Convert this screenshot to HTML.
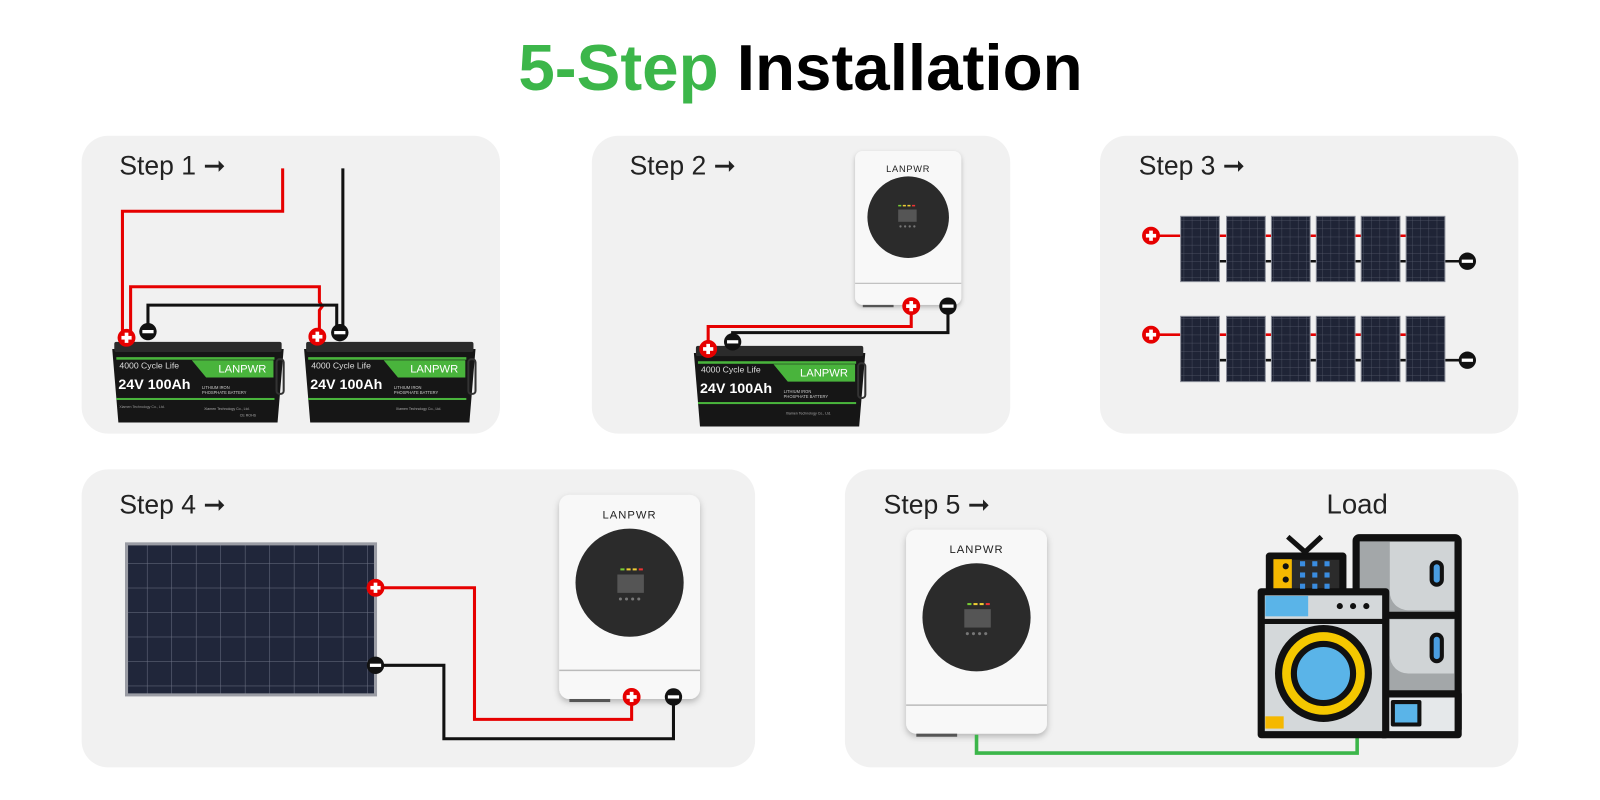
<!DOCTYPE html>
<html><head><meta charset="utf-8"><style>
html,body{margin:0;padding:0;background:#fff;width:1600px;height:800px;overflow:hidden}
svg{display:block}
text{font-family:"Liberation Sans",Arial,sans-serif}
</style></head><body>
<svg width="1600" height="800" viewBox="0 0 1568 784" xmlns="http://www.w3.org/2000/svg">
<defs>
<g id="plus"><circle r="7.5" fill="#fff" stroke="#e60000" stroke-width="2.5"/><rect x="-5" y="-1.8" width="10" height="3.6" fill="#e60000"/><rect x="-1.8" y="-5" width="3.6" height="10" fill="#e60000"/><circle r="8.5" fill="#e60000"/><rect x="-5" y="-1.8" width="10" height="3.6" fill="#fff"/><rect x="-1.8" y="-5" width="3.6" height="10" fill="#fff"/></g>
<g id="minus"><circle r="8.5" fill="#111"/><rect x="-5.5" y="-1.6" width="11" height="3.2" fill="#fff"/></g>
<pattern id="cell" width="24" height="24" patternUnits="userSpaceOnUse"><rect width="24" height="24" fill="#20263a"/><path d="M0 0H24M0 0V24" stroke="#6d7284" stroke-width="1"/></pattern>
<pattern id="cell2" width="8" height="8" patternUnits="userSpaceOnUse"><rect width="8" height="8" fill="#1f2436"/><path d="M0 0H8M0 0V8" stroke="#565b6c" stroke-width="0.7"/></pattern>
<filter id="sh" x="-20%" y="-20%" width="140%" height="140%"><feDropShadow dx="0" dy="3" stdDeviation="3" flood-opacity="0.25"/></filter>
</defs>

<!-- title -->
<text x="508" y="88" font-size="64" font-weight="bold" textLength="553" lengthAdjust="spacingAndGlyphs"><tspan fill="#3cb64a">5-Step</tspan><tspan fill="#000"> Installation</tspan></text>

<!-- panels -->
<rect x="80" y="133" width="410" height="292" rx="26" fill="#f1f1f1"/>
<rect x="580" y="133" width="410" height="292" rx="26" fill="#f1f1f1"/>
<rect x="1078" y="133" width="410" height="292" rx="26" fill="#f1f1f1"/>
<rect x="80" y="460" width="660" height="292" rx="26" fill="#f1f1f1"/>
<rect x="828" y="460" width="660" height="292" rx="26" fill="#f1f1f1"/>

<g font-size="26" fill="#222">
<text x="117" y="171">Step 1 ➞</text>
<text x="617" y="171">Step 2 ➞</text>
<text x="1116" y="171">Step 3 ➞</text>
<text x="117" y="503">Step 4 ➞</text>
<text x="866" y="503">Step 5 ➞</text>
<text x="1300" y="503" font-size="27">Load</text>
</g>

<!-- Batteries -->
<g id="bat1" transform="translate(110,332)">
<path d="M0 10H168L162 82H6Z" fill="#161616"/>
<rect x="2" y="3" width="164" height="10" rx="2" fill="#2b2b2b"/>
<rect x="161" y="20" width="7" height="34" rx="3" fill="none" stroke="#333" stroke-width="2"/>
<rect x="4" y="18" width="155" height="2.5" fill="#49b43c"/>
<path d="M78 21H158V38H92Z" fill="#49b43c"/>
<text x="7" y="29" font-size="8.5" fill="#ddd">4000 Cycle Life</text>
<text x="6" y="49" font-size="14" font-weight="bold" fill="#fff">24V 100Ah</text>
<text x="104" y="33" font-size="11" fill="#fff">LANPWR</text>
<text x="88" y="49" font-size="4" fill="#ccc">LITHIUM IRON</text>
<text x="88" y="54" font-size="4" fill="#ccc">PHOSPHATE BATTERY</text>
<rect x="4" y="58" width="155" height="2" fill="#49b43c"/>
<text x="7" y="68" font-size="3.5" fill="#999">Xiamen Technology Co., Ltd.</text>
<text x="90" y="70" font-size="3.5" fill="#aaa">Xiamen Technology Co., Ltd.</text>
<text x="125" y="76" font-size="3.5" fill="#aaa">CE ROHS</text>
</g>
<g transform="translate(298,332)">
<path d="M0 10H168L162 82H6Z" fill="#161616"/>
<rect x="2" y="3" width="164" height="10" rx="2" fill="#2b2b2b"/>
<rect x="161" y="20" width="7" height="34" rx="3" fill="none" stroke="#333" stroke-width="2"/>
<rect x="4" y="18" width="155" height="2.5" fill="#49b43c"/>
<path d="M78 21H158V38H92Z" fill="#49b43c"/>
<text x="7" y="29" font-size="8.5" fill="#ddd">4000 Cycle Life</text>
<text x="6" y="49" font-size="14" font-weight="bold" fill="#fff">24V 100Ah</text>
<text x="104" y="33" font-size="11" fill="#fff">LANPWR</text>
<text x="88" y="49" font-size="4" fill="#ccc">LITHIUM IRON</text>
<text x="88" y="54" font-size="4" fill="#ccc">PHOSPHATE BATTERY</text>
<rect x="4" y="58" width="155" height="2" fill="#49b43c"/>
<text x="90" y="70" font-size="3.5" fill="#aaa">Xiamen Technology Co., Ltd.</text>
</g>
<g transform="translate(680,336)">
<path d="M0 10H168L162 82H6Z" fill="#161616"/>
<rect x="2" y="3" width="164" height="10" rx="2" fill="#2b2b2b"/>
<rect x="161" y="20" width="7" height="34" rx="3" fill="none" stroke="#333" stroke-width="2"/>
<rect x="4" y="18" width="155" height="2.5" fill="#49b43c"/>
<path d="M78 21H158V38H92Z" fill="#49b43c"/>
<text x="7" y="29" font-size="8.5" fill="#ddd">4000 Cycle Life</text>
<text x="6" y="49" font-size="14" font-weight="bold" fill="#fff">24V 100Ah</text>
<text x="104" y="33" font-size="11" fill="#fff">LANPWR</text>
<text x="88" y="49" font-size="4" fill="#ccc">LITHIUM IRON</text>
<text x="88" y="54" font-size="4" fill="#ccc">PHOSPHATE BATTERY</text>
<rect x="4" y="58" width="155" height="2" fill="#49b43c"/>
<text x="90" y="70" font-size="3.5" fill="#aaa">Xiamen Technology Co., Ltd.</text>
</g>

<!-- Step1 wires -->
<g fill="none" stroke-width="3">
<path d="M277 165V207H120V331" stroke="#e60000"/>
<path d="M128 331V281H313V296L316 300L313 304V330" stroke="#e60000"/>
<path d="M145 325V299H330V326" stroke="#111"/>
<path d="M336 165V326" stroke="#111"/>
</g>
<use href="#plus" x="124" y="331"/><use href="#minus" x="145" y="325"/>
<use href="#plus" x="311" y="330"/><use href="#minus" x="333" y="326"/>

<!-- Inverters -->
<g transform="translate(838,148) scale(0.754)">
<rect x="0" y="0" width="138" height="200" rx="10" fill="#f8f8f8" filter="url(#sh)"/>
<line x1="0" y1="172" x2="138" y2="172" stroke="#bbb" stroke-width="1.5"/>
<text x="69" y="27" font-size="12" text-anchor="middle" fill="#222" letter-spacing="1">LANPWR</text>
<circle cx="69" cy="86" r="53" fill="#2b2b2b"/>
<rect x="56" y="70" width="4" height="2" fill="#7c3"/><rect x="62" y="70" width="4" height="2" fill="#ec3"/><rect x="68" y="70" width="4" height="2" fill="#ec3"/><rect x="74" y="70" width="4" height="2" fill="#e33"/>
<rect x="56" y="76" width="24" height="16" fill="#555"/>
<circle cx="59" cy="98" r="1.5" fill="#777"/><circle cx="65" cy="98" r="1.5" fill="#777"/><circle cx="71" cy="98" r="1.5" fill="#777"/><circle cx="77" cy="98" r="1.5" fill="#777"/>
<rect x="10" y="200" width="40" height="3" fill="#555"/>
</g>
<g transform="translate(548,485)">
<rect x="0" y="0" width="138" height="200" rx="10" fill="#f8f8f8" filter="url(#sh)"/>
<line x1="0" y1="172" x2="138" y2="172" stroke="#bbb" stroke-width="1.5"/>
<text x="69" y="23" font-size="11" text-anchor="middle" fill="#222" letter-spacing="1">LANPWR</text>
<circle cx="69" cy="86" r="53" fill="#2b2b2b"/>
<rect x="60" y="72" width="4" height="2" fill="#7c3"/><rect x="66" y="72" width="4" height="2" fill="#ec3"/><rect x="72" y="72" width="4" height="2" fill="#ec3"/><rect x="78" y="72" width="4" height="2" fill="#e33"/>
<rect x="57" y="78" width="26" height="18" fill="#555"/>
<circle cx="60" cy="102" r="1.5" fill="#777"/><circle cx="66" cy="102" r="1.5" fill="#777"/><circle cx="72" cy="102" r="1.5" fill="#777"/><circle cx="78" cy="102" r="1.5" fill="#777"/>
<rect x="10" y="200" width="40" height="3" fill="#555"/>
</g>
<g transform="translate(888,519)">
<rect x="0" y="0" width="138" height="200" rx="10" fill="#f8f8f8" filter="url(#sh)"/>
<line x1="0" y1="172" x2="138" y2="172" stroke="#bbb" stroke-width="1.5"/>
<text x="69" y="23" font-size="11" text-anchor="middle" fill="#222" letter-spacing="1">LANPWR</text>
<circle cx="69" cy="86" r="53" fill="#2b2b2b"/>
<rect x="60" y="72" width="4" height="2" fill="#7c3"/><rect x="66" y="72" width="4" height="2" fill="#ec3"/><rect x="72" y="72" width="4" height="2" fill="#ec3"/><rect x="78" y="72" width="4" height="2" fill="#e33"/>
<rect x="57" y="78" width="26" height="18" fill="#555"/>
<circle cx="60" cy="102" r="1.5" fill="#777"/><circle cx="66" cy="102" r="1.5" fill="#777"/><circle cx="72" cy="102" r="1.5" fill="#777"/><circle cx="78" cy="102" r="1.5" fill="#777"/>
<rect x="10" y="200" width="40" height="3" fill="#555"/>
</g>

<!-- Step2 wires -->
<g fill="none" stroke-width="3">
<path d="M694 342V320H893V300" stroke="#e60000"/>
<path d="M718 335V326H929V300" stroke="#111"/>
</g>
<use href="#plus" x="694" y="342"/><use href="#minus" x="718" y="335"/>
<use href="#plus" x="893" y="300"/><use href="#minus" x="929" y="300"/>

<!-- Step3 solar -->
<g stroke-width="2.5">
<line x1="1128" y1="231" x2="1400" y2="231" stroke="#e60000"/>
<line x1="1170" y1="256" x2="1438" y2="256" stroke="#111"/>
<line x1="1128" y1="328" x2="1400" y2="328" stroke="#e60000"/>
<line x1="1170" y1="353" x2="1438" y2="353" stroke="#111"/>
</g>
<g stroke="#8b8f9a" stroke-width="1">
<rect x="1157" y="212" width="38" height="64" fill="url(#cell2)"/>
<rect x="1202" y="212" width="38" height="64" fill="url(#cell2)"/>
<rect x="1246" y="212" width="38" height="64" fill="url(#cell2)"/>
<rect x="1290" y="212" width="38" height="64" fill="url(#cell2)"/>
<rect x="1334" y="212" width="38" height="64" fill="url(#cell2)"/>
<rect x="1378" y="212" width="38" height="64" fill="url(#cell2)"/>
<rect x="1157" y="310" width="38" height="64" fill="url(#cell2)"/>
<rect x="1202" y="310" width="38" height="64" fill="url(#cell2)"/>
<rect x="1246" y="310" width="38" height="64" fill="url(#cell2)"/>
<rect x="1290" y="310" width="38" height="64" fill="url(#cell2)"/>
<rect x="1334" y="310" width="38" height="64" fill="url(#cell2)"/>
<rect x="1378" y="310" width="38" height="64" fill="url(#cell2)"/>
</g>
<use href="#plus" x="1128" y="231"/><use href="#minus" x="1438" y="256"/>
<use href="#plus" x="1128" y="328"/><use href="#minus" x="1438" y="353"/>

<!-- Step4 -->
<rect x="124" y="533" width="244" height="148" fill="url(#cell)" stroke="#9a9ca4" stroke-width="3"/>
<g fill="none" stroke-width="3">
<path d="M368 576H465V705H619V683" stroke="#e60000"/>
<path d="M368 652H435V724H660V683" stroke="#111"/>
</g>
<use href="#plus" x="368" y="576"/><use href="#minus" x="368" y="652"/>
<use href="#plus" x="619" y="683"/><use href="#minus" x="660" y="683"/>

<!-- Step5 green -->
<path d="M957 720V738H1330V720" fill="none" stroke="#3cb64a" stroke-width="3.5"/>

<!-- Load icon -->
<g stroke="#111" stroke-width="7" stroke-linejoin="round">
<rect x="1329" y="527" width="100" height="190" rx="3" fill="#a3a7a9"/>
<line x1="1329" y1="603" x2="1429" y2="603"/>
<path d="M1362 531H1425V598H1380A18 18 0 0 1 1362 580Z" fill="#d0d4d6" stroke="none"/>
<path d="M1362 607H1425V660H1380A18 18 0 0 1 1362 642Z" fill="#d0d4d6" stroke="none"/>
<rect x="1403" y="551" width="10" height="22" rx="5" fill="#4a9de0" stroke-width="4"/>
<rect x="1403" y="622" width="10" height="26" rx="5" fill="#4a9de0" stroke-width="4"/>
<rect x="1244" y="545" width="72" height="40" fill="#2b2b2b"/>
<rect x="1248" y="548" width="18" height="34" fill="#f5b800" stroke="none"/>
<path d="M1262 526L1279 541L1295 526" fill="none" stroke-width="5"/>
<rect x="1355" y="680" width="74" height="40" fill="#e5e8ea"/>
<rect x="1236" y="580" width="122" height="140" fill="#d4d8da"/>
<rect x="1240" y="584" width="42" height="20" fill="#5ab4e8" stroke="none"/>
<line x1="1236" y1="609" x2="1358" y2="609" stroke-width="5"/>
<circle cx="1297" cy="660" r="44" fill="#f5c800"/>
<circle cx="1297" cy="660" r="29" fill="#5ab4e8" stroke-width="6"/>
<rect x="1240" y="702" width="18" height="12" fill="#f5b800" stroke="none"/>
<rect x="1365" y="688" width="26" height="22" fill="#5ab4e8" stroke-width="4"/>
</g>
<g fill="#3a8de0">
<rect x="1274" y="550" width="5" height="5"/><rect x="1286" y="550" width="5" height="5"/><rect x="1298" y="550" width="5" height="5"/>
<rect x="1274" y="561" width="5" height="5"/><rect x="1286" y="561" width="5" height="5"/><rect x="1298" y="561" width="5" height="5"/>
<rect x="1274" y="572" width="5" height="5"/><rect x="1286" y="572" width="5" height="5"/><rect x="1298" y="572" width="5" height="5"/>
</g>
<g fill="#111"><circle cx="1260" cy="555" r="3"/><circle cx="1260" cy="568" r="3"/><circle cx="1339" cy="594" r="3"/><circle cx="1326" cy="594" r="3"/><circle cx="1313" cy="594" r="3"/></g>
</svg>
</body></html>
